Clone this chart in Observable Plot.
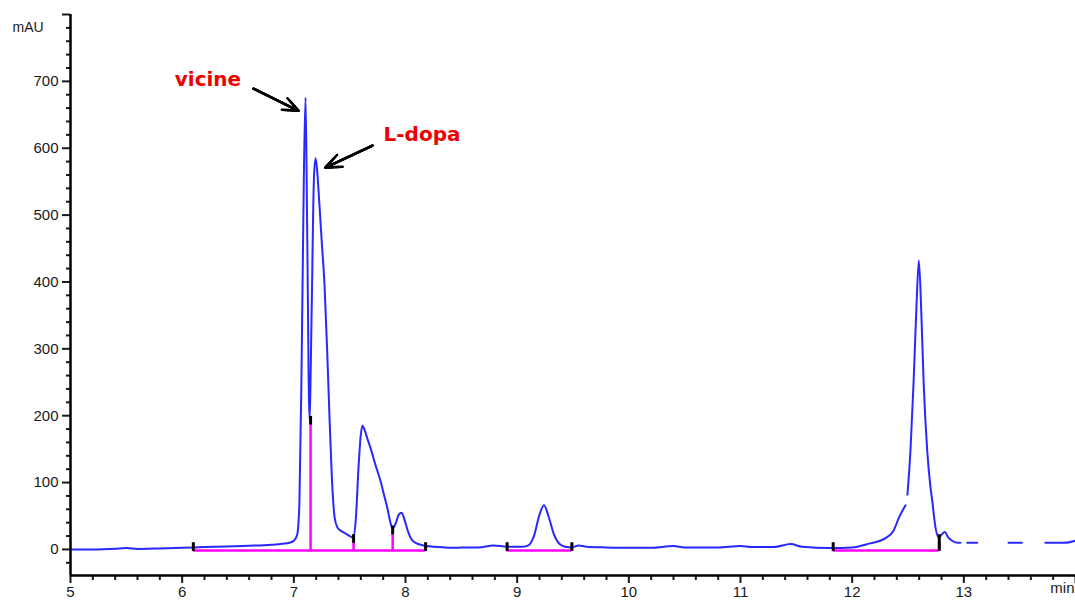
<!DOCTYPE html>
<html>
<head>
<meta charset="utf-8">
<script src="https://cdn.jsdelivr.net/npm/d3@7"></script>
<script src="https://cdn.jsdelivr.net/npm/@observablehq/plot@0.6"></script>
<style>
  html, body { margin: 0; padding: 0; background: #fff; }
  #chart svg { display: block; }
</style>
</head>
<body>
<div id="chart"></div>
<script>
// Chromatogram: retention time (min) and absorbance (mAU); null = gap in trace
const time = [5.00, 5.20, 5.40, 5.50, 5.60, 5.80, 6.00, 6.20, 6.40, 6.60, 6.80, 6.90, 6.96, 7.00, 7.03, 7.05, 7.07, 7.09, 7.105, 7.12, 7.14,
  7.16, 7.18, 7.195, 7.21, 7.22, 7.25, 7.275, 7.30, 7.32, 7.34, 7.365, 7.39, 7.42, 7.45, 7.49, 7.53,
  7.555, 7.58, 7.60, 7.615, 7.635, 7.66, 7.69, 7.73, 7.78, 7.81, 7.84, 7.865, 7.885, 7.91, 7.94, 7.965, 7.99, 8.02, 8.05, 8.10, 8.16, 8.25, 8.35, 8.45, 8.55, 8.65, 8.79, 8.91,
  9.05, 9.10, 9.15, 9.20, 9.24, 9.28, 9.33, 9.38, 9.43, 9.49, 9.55, 9.62, 9.80, 10.00, 10.20, 10.40, 10.50, 10.80, 11.00, 11.10, 11.30, 11.45, 11.55, 11.80, 12.00,
  12.16, 12.25, 12.30, 12.37, 12.42, 12.478, 12.488, 12.495, 12.522, 12.55, 12.575, 12.597, 12.62, 12.64, 12.672, 12.70, 12.717, 12.746, 12.776, 12.80, 12.83, 12.86, 12.895, 12.95, 12.97,
  13.00, 13.03, 13.12, 13.20, 13.40, 13.52, 13.60, 13.73, 13.90, 14.00];
const mAU = [0, 0, 1, 2, 0.8, 1.5, 2.5, 3.5, 4.5, 5.5, 7, 8.5, 10, 13, 22, 70, 280, 560, 676, 470, 195,
  360, 555, 585, 565, 540, 460, 395, 290, 195, 110, 48, 33, 28, 25, 21, 18,
  45, 125, 172, 185, 178, 165, 150, 127, 100, 80, 60, 40, 31, 38, 52, 55, 45, 28, 16, 9, 6, 4, 3, 2.5, 3, 3, 6, 4,
  4, 6, 20, 52, 66, 50, 22, 8, 4, 3, 6, 4, 3, 2.5, 2.5, 5, 3, 3, 5, 3.5, 3.5, 8, 4, 2, 3,
  9, 13, 17, 28, 48, 66, null, 82, 148, 250, 360, 432, 350, 250, 148, 95, 73, 33, 18, 22, 26, 18, 13, 10, 10,
  null, 10, 10, null, 10, 10, null, 10, 10, 13];

// Peak integration: baselines, drop lines
const segStart = [6.10, 8.91, 11.83];
const segEnd = [8.18, 9.49, 12.78];
const dropTime = [7.15, 7.535, 7.885, 12.78];
const dropTop = [195, 18, 31, 18];

// Annotations
const labels = ["vicine", "L-dopa"];
const labelTime = [6.231, 8.148];
const labelValue = [703, 620];
const arrowFrom = [[6.639, 689], [7.704, 604]];
const arrowTo = [[7.042, 656], [7.283, 571]];

// Axis ticks
const xMajor = [5, 6, 7, 8, 9, 10, 11, 12, 13, 14];
const xMinor = d3.range(5.2, 14, 0.2).filter(v => Math.abs(v - Math.round(v)) > 0.01);
const yMajor = [0, 100, 200, 300, 400, 500, 600, 700, 800];
const yMinor = d3.range(-20, 800, 20).filter(v => v % 100 !== 0);
const xUnit = "min";
const yUnit = "mAU";

const chrom = time.map((t, i) => ({t, v: mAU[i]}));
const segs = segStart.map((s, i) => ({x1: s, x2: segEnd[i]}));
const drops = dropTime.map((t, i) => ({t, top: dropTop[i]}));
const edgeMarks = [...segStart, ...segEnd];
const ann = labels.map((l, i) => ({label: l, t: labelTime[i], v: labelValue[i],
  x1: arrowFrom[i][0], y1: arrowFrom[i][1], x2: arrowTo[i][0], y2: arrowTo[i][1]}));

const base = -1.5;
const blue = "#2828ff";
const magenta = "#ff00ff";

const chart = Plot.plot({
  width: 1075,
  height: 601,
  marginLeft: 70,
  marginTop: 14,
  marginBottom: 26,
  marginRight: 0,
  style: {fontFamily: "'Liberation Sans', Arial, sans-serif", fontSize: "15px", color: "#1a1a1a", background: "#fff"},
  x: {domain: [5, 14]},
  y: {domain: [-39, 800]},
  marks: [
    Plot.line(chrom, {x: "t", y: "v", stroke: blue, strokeWidth: 2, curve: "monotone-x"}),
    Plot.ruleY(segs, {y: base, x1: "x1", x2: "x2", stroke: magenta, strokeWidth: 2.5}),
    Plot.ruleX(drops, {x: "t", y1: base, y2: d => d.top - 8, stroke: magenta, strokeWidth: 2.5}),
    Plot.ruleX(drops, {x: "t", y1: d => d.top - 9, y2: d => d.top + 4, stroke: "#000", strokeWidth: 3}),
    Plot.ruleX(edgeMarks, {x: d => d, y1: -3, y2: 10, stroke: "#000", strokeWidth: 3}),
    Plot.text(ann, {x: "t", y: "v", text: "label", fill: "#ee0000", fontSize: 20, fontWeight: "bold",
      fontFamily: "'DejaVu Sans', Verdana, sans-serif"}),
    Plot.arrow(ann, {x1: "x1", y1: "y1", x2: "x2", y2: "y2", stroke: "#000", strokeWidth: 2.5, headLength: 13, headAngle: 45}),
    Plot.arrow(ann, {x1: "x1", y1: "y1", x2: "x2", y2: "y2", stroke: "#000", strokeWidth: 2.5, headLength: 8, headAngle: 45}),
    Plot.arrow(ann, {x1: "x1", y1: "y1", x2: "x2", y2: "y2", stroke: "#000", strokeWidth: 2.5, headLength: 4, headAngle: 45}),
    Plot.axisY({ticks: yMajor, tickSize: 8, tickPadding: 4, strokeWidth: 2, fontSize: 15,
      tickFormat: d => d === 800 ? "" : d, label: null}),
    Plot.axisY({ticks: yMinor, tickSize: 4, strokeWidth: 2, tickFormat: () => "", label: null}),
    Plot.axisX({ticks: xMajor, tickSize: 8, tickPadding: 3, strokeWidth: 2, fontSize: 15,
      tickFormat: d => d === 14 ? "" : d, label: null}),
    Plot.axisX({ticks: xMinor, tickSize: 5, strokeWidth: 2, tickFormat: () => "", label: null}),
    Plot.ruleX([5], {stroke: "#000", strokeWidth: 2.5}),
    Plot.ruleY([-39], {stroke: "#000", strokeWidth: 2.5}),
    Plot.text([xUnit], {frameAnchor: "bottom-right", dx: -1, dy: 17, textAnchor: "end", fontSize: 15, fill: "#1a1a1a"}),
    Plot.text([yUnit], {frameAnchor: "top-left", dx: -58, dy: 8, textAnchor: "start", fontSize: 14, fill: "#1a1a1a"})
  ]
});
document.getElementById("chart").appendChild(chart);
</script>
</body>
</html>
